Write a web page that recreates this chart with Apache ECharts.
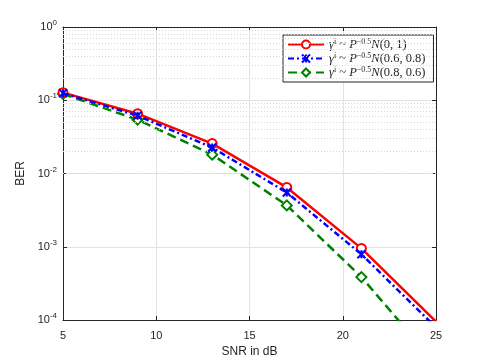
<!DOCTYPE html>
<html>
<head>
<meta charset="utf-8">
<script src="https://cdn.jsdelivr.net/npm/echarts@6/dist/echarts.min.js"></script>
<style>
  html, body { margin: 0; padding: 0; background: #fff; }
  #chart-box { width: 485px; height: 363px; }
</style>
</head>
<body>
<div id="chart-box"></div>
<script>
// SNR points (dB) and BER per scheme
const snr = [5, 9, 13, 17, 21, 25];
const berN01 = [0.127, 0.0655, 0.0256, 0.00645, 0.00095, 0.000095];
const berN0608 = [0.125, 0.0616, 0.0226, 0.0055, 0.00079, 0.000079];
const berN0806 = [0.122, 0.0543, 0.0181, 0.00367, 0.000385, 0.000025];
const xTicks = [5, 10, 15, 20, 25];

// minor grid lines of the log axis (2..9 per decade)
const minorGrid = [];
for (let e = -4; e < 0; e++) {
  for (let m = 2; m <= 9; m++) minorGrid.push(m * Math.pow(10, e));
}

const axisColor = "#262626";
const font = "'Liberation Sans', Arial, sans-serif";
const serif = "'Liberation Serif', serif";
const mathRich = {
  it: { fontFamily: serif, fontStyle: "italic", fontSize: 12.5, lineHeight: 13, color: axisColor },
  rm: { fontFamily: serif, fontSize: 12.5, lineHeight: 13, color: axisColor },
  sup: { fontFamily: serif, fontSize: 8, lineHeight: 13, verticalAlign: "top", padding: [0, 0, 4, 0], color: axisColor },
};
const legendLabels = {
  "N01": "{it|γ}{sup|i}{rm| ~ }{it|P}{sup|−0.5}{it|N}{rm|(0, 1)}",
  "N0608": "{it|γ}{sup|i}{rm| ~ }{it|P}{sup|−0.5}{it|N}{rm|(0.6, 0.8)}",
  "N0806": "{it|γ}{sup|i}{rm| ~ }{it|P}{sup|−0.5}{it|N}{rm|(0.8, 0.6)}",
};

const chart = echarts.init(document.getElementById("chart-box"));
const pairs = (ys) => snr.map((x, i) => [x, ys[i]]);

const option = {
  animation: false,
  backgroundColor: "#fff",
  grid: { left: 63, right: 49, top: 27, bottom: 42 },
  legend: {
    orient: "vertical",
    left: 283,
    top: 35,
    itemWidth: 36,
    itemHeight: 10,
    itemGap: 1,
    padding: [3, 8, 3, 4],
    borderColor: axisColor,
    borderWidth: 1,
    backgroundColor: "#fff",
    data: ["N01", "N0608", "N0806"],
    formatter: (name) => legendLabels[name],
    textStyle: { rich: mathRich },
  },
  xAxis: [
    {
      type: "value",
      min: 5,
      max: 25,
      interval: 5,
      name: "SNR in dB",
      nameLocation: "middle",
      nameGap: 26,
      nameTextStyle: { fontFamily: font, fontSize: 12, color: axisColor },
      axisLine: { onZero: false, lineStyle: { color: axisColor, width: 1 } },
      axisTick: { inside: true, length: 4, lineStyle: { color: axisColor } },
      axisLabel: { fontFamily: font, fontSize: 11, color: axisColor, margin: 10 },
      splitLine: { show: true, lineStyle: { color: "#e3e3e3", width: 1 } },
    },
    {
      type: "value",
      position: "top",
      min: 5,
      max: 25,
      interval: 5,
      axisLine: { show: true, onZero: false, lineStyle: { color: axisColor, width: 1 } },
      axisTick: { inside: true, length: 4, lineStyle: { color: axisColor } },
      axisLabel: { show: false },
      splitLine: { show: false },
    },
  ],
  yAxis: [
    {
      type: "log",
      logBase: 10,
      min: 1e-4,
      max: 1,
      name: "BER",
      nameLocation: "middle",
      nameGap: 34,
      nameTextStyle: { fontFamily: font, fontSize: 12, color: axisColor },
      axisLine: { show: true, lineStyle: { color: axisColor, width: 1 } },
      axisTick: { inside: true, length: 4, lineStyle: { color: axisColor } },
      axisLabel: {
        fontFamily: font,
        fontSize: 11,
        color: axisColor,
        margin: 6,
        formatter: (v) => "10{s|" + Math.round(Math.log10(v)) + "}",
        rich: {
          s: { fontFamily: font, fontSize: 8, verticalAlign: "top", padding: [0, 0, 8, 0], color: axisColor },
        },
      },
      splitLine: { show: true, lineStyle: { color: "#e3e3e3", width: 1 } },
    },
    {
      type: "log",
      logBase: 10,
      min: 1e-4,
      max: 1,
      position: "right",
      axisLine: { show: true, lineStyle: { color: axisColor, width: 1 } },
      axisTick: { inside: true, length: 4, lineStyle: { color: axisColor } },
      axisLabel: { show: false },
      splitLine: { show: false },
    },
  ],
  series: [
    {
      name: "minor-grid",
      type: "line",
      data: [],
      silent: true,
      markLine: {
        silent: true,
        symbol: "none",
        label: { show: false },
        lineStyle: { color: "#d6d6d6", type: [1, 2], width: 1 },
        data: minorGrid.map((v) => ({ yAxis: v })),
      },
    },
    {
      name: "N01",
      type: "line",
      data: pairs(berN01),
      color: "#ff0000",
      symbol: "emptyCircle",
      symbolSize: 9,
      lineStyle: { width: 2.5, color: "#ff0000" },
      itemStyle: { color: "#ff0000", borderWidth: 2 },
      z: 5,
    },
    {
      name: "N0608",
      type: "line",
      data: pairs(berN0608),
      color: "#0000ff",
      symbol: "path://M0,0L10,10M10,0L0,10M5,0L5,10",
      symbolSize: 8,
      lineStyle: { width: 2.5, color: "#0000ff", type: [6, 3, 2, 3] },
      itemStyle: { color: "#0000ff", borderColor: "#0000ff", borderWidth: 2 },
      z: 6,
    },
    {
      name: "N0806",
      type: "line",
      data: pairs(berN0806),
      color: "#008000",
      symbol: "emptyDiamond",
      symbolSize: 10,
      lineStyle: { width: 2.5, color: "#008000", type: [9, 5] },
      itemStyle: { color: "#008000", borderWidth: 2 },
      z: 4,
    },
  ],
};

chart.setOption(option);
</script>
</body>
</html>
